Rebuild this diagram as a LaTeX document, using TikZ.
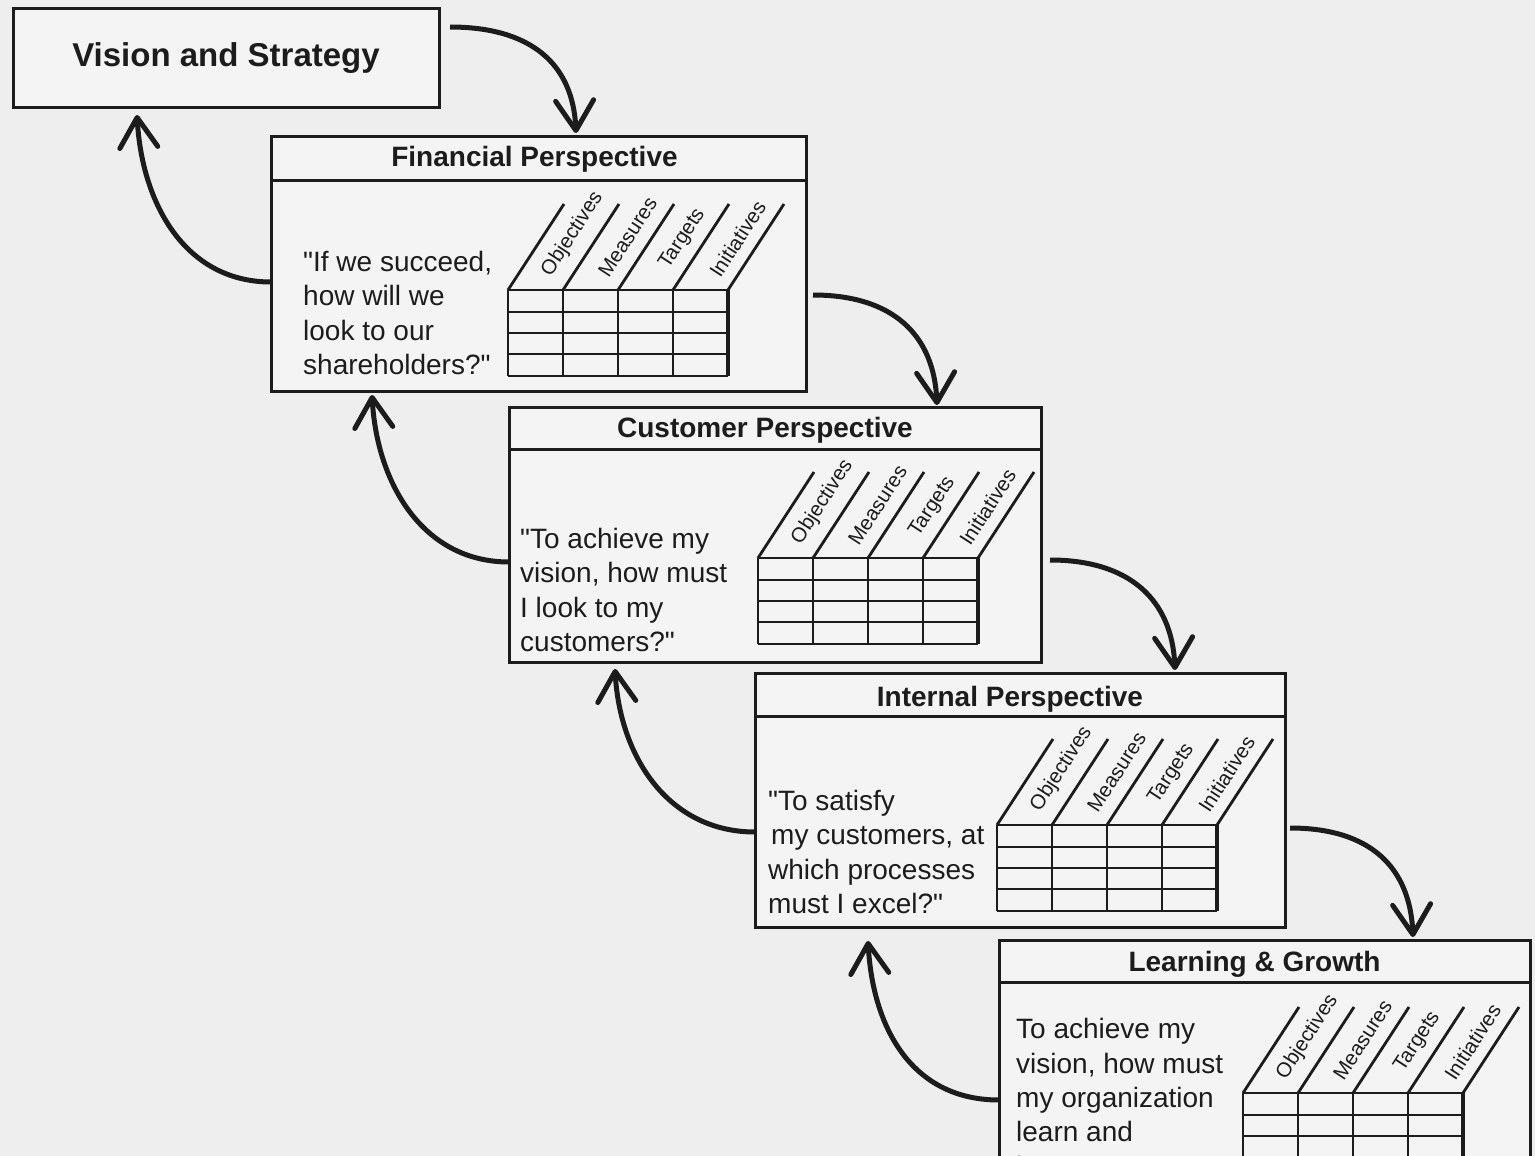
\documentclass[tikz,border=0pt]{standalone}
\usepackage{fontspec}
\setmainfont{Liberation Sans}[Ligatures=TeXOff]
\usetikzlibrary{arrows.meta,calc}

\definecolor{paper}{RGB}{238,238,238}
\definecolor{boxfill}{RGB}{244,244,244}
\definecolor{ink}{RGB}{28,28,28}

\tikzset{
  pbox/.style={draw=ink, line width=3pt, fill=boxfill, inner sep=0pt, outer sep=0pt,
               anchor=north west, minimum width=532pt, minimum height=255pt},
  ptitle/.style={font=\fontsize{28}{34}\selectfont\bfseries, text=ink, inner sep=0pt},
  ptext/.style={font=\fontsize{28}{34.5}\selectfont, text=ink, align=left,
                anchor=north west, inner sep=0pt},
  gridline/.style={draw=ink, line width=2.8pt},
  colhead/.style={font=\fontsize{20.5}{24}\selectfont, text=ink, rotate=57, inner sep=0pt},
  flow/.style={draw=ink, line width=5pt, -{Straight Barb[length=30pt,width=38pt,round]}},
}

% Scorecard grid: #1 name prefix, #2/#3 top-left corner of the cells
\newcommand{\scorecardgrid}[3]{%
  \begin{scope}[shift={(#2,#3)}]
    \foreach \r in {0,22,43,64,86} \draw[gridline] (0,\r) -- (220,\r);
    \foreach \c in {0,55,110,165} \draw[gridline] (\c,0) -- (\c,86);
    \draw[gridline, line width=4.5pt] (220,0) -- (220,86);
    \foreach \c in {0,55,110,165,220} \draw[gridline] (\c,0) -- ++(56,-86);
    \node[colhead] (#1-obj) at (64.5,-56) {Objectives};
    \node[colhead] (#1-mea) at (119.5,-53) {Measures};
    \node[colhead] (#1-tar) at (174.5,-51) {Targets};
    \node[colhead] (#1-ini) at (229.5,-51) {Initiatives};
  \end{scope}}

\begin{document}
\begin{tikzpicture}[x=1pt,y=-1pt]
  \useasboundingbox (0,0) rectangle (1535,1156);
  \clip (0,0) rectangle (1535,1156);
  \fill[paper] (0,0) rectangle (1535,1156);

  % Vision and Strategy
  \node[draw=ink, line width=3pt, fill=boxfill, inner sep=0pt, outer sep=0pt,
        anchor=north west, minimum width=426pt, minimum height=98pt,
        font=\fontsize{33}{40}\selectfont\bfseries, text=ink] (vis) at (13,9) {Vision and Strategy};

  % Financial perspective
  \node[pbox, minimum width=535pt] (fin) at (271,136) {};
  \draw[draw=ink, line width=3pt] ([yshift=-44pt]fin.north west) -- ([yshift=-44pt]fin.north east);
  \node[ptitle] (fin-t) at ($(fin.north)+(-4,23)$) {Financial Perspective};
  \node[ptext] (fin-q) at (303,251) {"If we succeed,\\how will we\\look to our\\shareholders?"};
  \scorecardgrid{fin}{508}{290}

  % Customer perspective
  \node[pbox] (cus) at (509,407) {};
  \draw[draw=ink, line width=3pt] ([yshift=-42pt]cus.north west) -- ([yshift=-42pt]cus.north east);
  \node[ptitle] (cus-t) at ($(cus.north)+(-10,23)$) {Customer Perspective};
  \node[ptext] (cus-q) at (520,528) {"To achieve my\\vision, how must\\I look to my\\customers?"};
  \scorecardgrid{cus}{758}{558}

  % Internal perspective
  \node[pbox, minimum width=530pt, minimum height=254pt] (int) at (755,673) {};
  \draw[draw=ink, line width=3pt] ([yshift=-43pt]int.north west) -- ([yshift=-43pt]int.north east);
  \node[ptitle] (int-t) at ($(int.north)+(-10,26)$) {Internal Perspective};
  \node[ptext] (int-q) at (768,790) {"To satisfy\\\hspace{3pt}my customers, at\\which processes\\must I excel?"};
  \scorecardgrid{int}{997}{825}

  % Learning and growth perspective
  \node[pbox, minimum width=531pt] (lrn) at (999,940) {};
  \draw[draw=ink, line width=3pt] ([yshift=-42pt]lrn.north west) -- ([yshift=-42pt]lrn.north east);
  \node[ptitle] (lrn-t) at ($(lrn.north)+(-10,24)$) {Learning \& Growth};
  \node[ptext] (lrn-q) at (1016,1018) {To achieve my\\vision, how must\\my organization\\learn and\\improve?"};
  \scorecardgrid{lrn}{1243}{1093}

  % Cause-and-effect arrows, downward
  \draw[flow] ($(vis.north east)+(11,18)$) .. controls +(80,0) and +(-3,-70) .. ($(fin.north west)+(305,-3)$);
  \draw[flow] ($(fin.north east)+(7,159)$) .. controls +(80,0) and +(-3,-70) .. ($(cus.north west)+(428,-2)$);
  \draw[flow] ($(cus.north east)+(9,153)$) .. controls +(80,0) and +(-3,-70) .. ($(int.north west)+(420,-3)$);
  \draw[flow] ($(int.north east)+(5,155)$) .. controls +(80,0) and +(-3,-70) .. ($(lrn.north west)+(414,-3)$);

  % Feedback arrows, upward
  \draw[flow] ($(fin.north west)+(0,146)$) .. controls +(-85,0) and +(5,90) .. ($(vis.south west)+(124,8)$);
  \draw[flow] ($(cus.north west)+(0,155)$) .. controls +(-85,0) and +(5,90) .. ($(fin.south west)+(101,4)$);
  \draw[flow] ($(int.north west)+(0,159)$) .. controls +(-85,0) and +(5,90) .. ($(cus.south west)+(106,7)$);
  \draw[flow] ($(lrn.north west)+(0,160)$) .. controls +(-85,0) and +(5,90) .. ($(int.south west)+(113,14)$);
\end{tikzpicture}
\end{document}
